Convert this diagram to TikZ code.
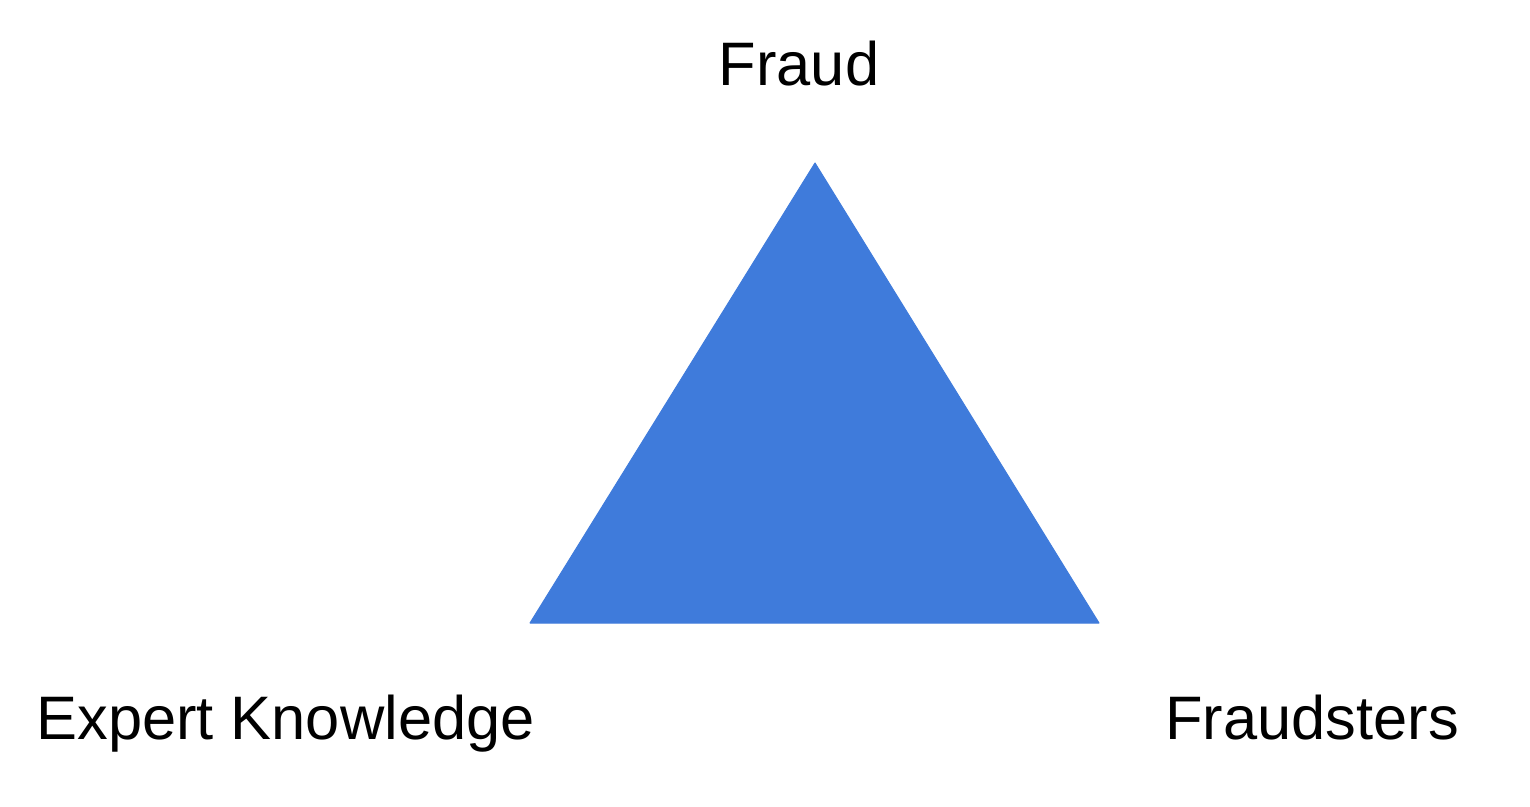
\documentclass[tikz,border=0pt]{standalone}
\usepackage{fontspec}
\setmainfont{Liberation Sans}
\definecolor{triblue}{HTML}{3F7BDB}
\begin{document}
\begin{tikzpicture}[x=0.5pt,y=-0.5pt,
  lbl/.style={font=\fontsize{30.7pt}{36pt}\selectfont, inner sep=0pt, text=black}]
\useasboundingbox (0,0) rectangle (1530,807);
\coordinate (apex) at (815,163);
\coordinate (bl) at (530,623);
\coordinate (br) at (1099,623);
\fill[triblue, draw=triblue, line width=0.5pt, line join=round] (apex) -- (bl) -- (br) -- cycle;
\node[lbl, anchor=base] (fraud) at (799,86) {Fraud};
\node[lbl, anchor=base west] (expert) at (36,739) {Expert Knowledge};
\node[lbl, anchor=base west] (fraudsters) at (1165,739) {Fraudsters};
\end{tikzpicture}
\end{document}
